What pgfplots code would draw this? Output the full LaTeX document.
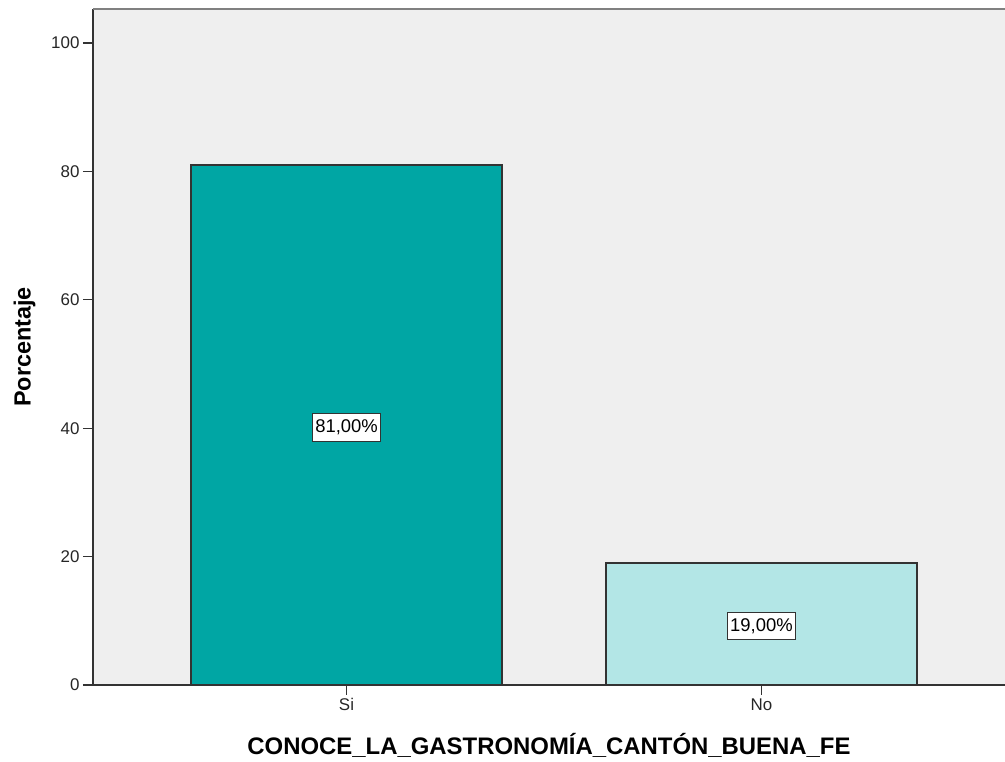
\documentclass[border=0pt]{standalone}
\usepackage{fontspec}
\setmainfont{Liberation Sans}
\usepackage{pgfplots}
\pgfplotsset{compat=1.18}
\definecolor{bg}{HTML}{EFEFEF}
\definecolor{siC}{HTML}{00A6A4}
\definecolor{noC}{HTML}{B3E6E6}
\definecolor{edge}{HTML}{333333}
\begin{document}
\begin{tikzpicture}[x=1bp,y=1bp]
\path[use as bounding box] (0,0) rectangle (1005,762);
\begin{axis}[
  at={(93bp,77bp)}, anchor=south west,
  scale only axis, width=912bp, height=676bp,
  xmin=-0.611, xmax=1.587, ymin=0, ymax=105.3,
  axis x line*=bottom, axis y line*=left,
  axis line style={-, draw=edge, line width=1.3bp},
  axis background/.style={fill=bg},
  xtick={0,1}, xticklabels={Si,No},
  ytick={0,20,40,60,80,100},
  tick align=outside,
  major tick length=10bp,
  tick style={draw=edge, line width=1.3bp},
  ticklabel style={font=\fontsize{17}{20}\selectfont, text=black!85},
  /pgf/number format/assume math mode=true,
  xlabel={CONOCE\_LA\_GASTRONOMÍA\_CANTÓN\_BUENA\_FE},
  ylabel={Porcentaje},
  xlabel style={at={(axis description cs:0.5,-0.0888)}, anchor=center, font=\bfseries\fontsize{24}{28}\selectfont},
  ylabel style={at={(axis description cs:-0.075,0.5)}, anchor=center, font=\bfseries\fontsize{23.5}{28}\selectfont},
  ybar, bar width=311bp, bar shift=0pt,
  clip=false,
]
\addplot[fill=siC, draw=edge, line width=1.2bp] coordinates {(0,81)};
\addplot[fill=noC, draw=edge, line width=1.2bp] coordinates {(1,19)};
\draw[color=gray, line width=1.8bp] (rel axis cs:0,1) -- (rel axis cs:1,1);
\node[draw=edge, fill=white, line width=1bp, inner xsep=2.5bp, inner ysep=6bp, font=\fontsize{18.5}{20}\selectfont] at (axis cs:0,40.1) {81,00\%};
\node[draw=edge, fill=white, line width=1bp, inner xsep=2.5bp, inner ysep=6bp, font=\fontsize{18.5}{20}\selectfont] at (axis cs:1,9.2) {19,00\%};
\end{axis}
\end{tikzpicture}
\end{document}
